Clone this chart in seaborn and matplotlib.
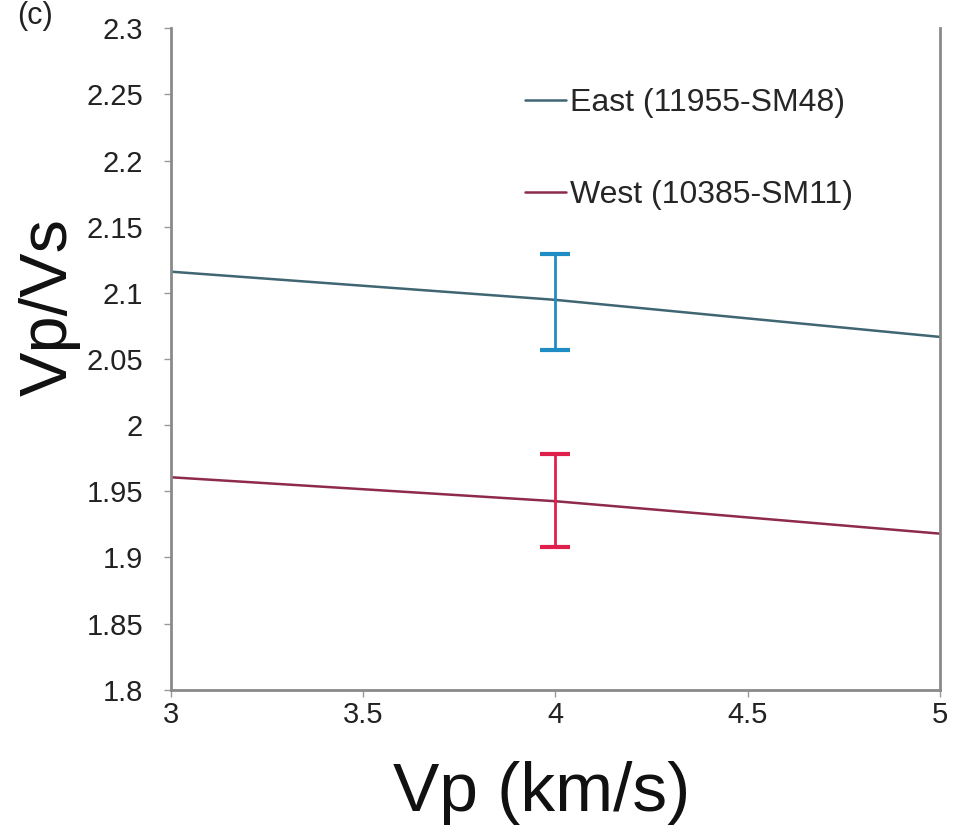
import matplotlib
matplotlib.use("Agg")
import matplotlib.pyplot as plt
import seaborn as sns
import pandas as pd
import numpy as np

# Data
vp = [3.0, 4.0, 5.0]
east_ratio = [2.116, 2.0947, 2.0667]
west_ratio = [1.9606, 1.9425, 1.918]
series_names = ["East (11955-SM48)", "West (10385-SM11)"]
err_x = [4.0]
east_err_center = [2.093]
east_err_half = [0.036]
west_err_center = [1.943]
west_err_half = [0.035]
xticks = [3, 3.5, 4, 4.5, 5]
yticks = [1.8, 1.85, 1.9, 1.95, 2.0, 2.05, 2.1, 2.15, 2.2, 2.25, 2.3]
ytick_labels = ["1.8", "1.85", "1.9", "1.95", "2", "2.05", "2.1", "2.15", "2.2", "2.25", "2.3"]
xtick_labels = ["3", "3.5", "4", "4.5", "5"]

sns.set_theme(style="white")
plt.rcParams['font.family'] = ['Liberation Sans', 'DejaVu Sans']

df = pd.DataFrame({
    "Vp": vp * 2,
    "ratio": east_ratio + west_ratio,
    "series": [series_names[0]] * len(vp) + [series_names[1]] * len(vp),
})

fig = plt.figure(figsize=(9.55, 8.31), dpi=100)
ax = fig.add_axes([0.179, 0.170, 0.805, 0.796])

line_colors = {series_names[0]: "#3f6672", series_names[1]: "#8e2a4c"}
sns.lineplot(data=df, x="Vp", y="ratio", hue="series", palette=line_colors,
             linewidth=1.8, ax=ax, legend=True)

ax.errorbar(err_x, east_err_center, yerr=east_err_half, fmt='none',
            ecolor="#1f8dc4", elinewidth=2, capsize=11, capthick=3, zorder=3)
ax.errorbar(err_x, west_err_center, yerr=west_err_half, fmt='none',
            ecolor="#e0204c", elinewidth=2, capsize=11, capthick=3, zorder=3)

ax.set_xlim(3, 5)
ax.set_ylim(1.8, 2.3)
ax.set_xticks(xticks)
ax.set_xticklabels(xtick_labels)
ax.set_yticks(yticks)
ax.set_yticklabels(ytick_labels)
ax.tick_params(axis='both', labelsize=21, colors="#222222", length=5, width=1,
               direction='out', left=True, bottom=True)
ax.tick_params(axis='x', pad=3, color="#999999")
ax.tick_params(axis='y', pad=15, color="#999999")

for s in ["left", "bottom", "right"]:
    ax.spines[s].set_visible(True)
    ax.spines[s].set_color("#8a8a8a")
    ax.spines[s].set_linewidth(2)
ax.spines["top"].set_visible(False)

ax.set_xlabel("Vp (km/s)", fontsize=50, color="#111111")
ax.set_ylabel("Vp/Vs", fontsize=48, color="#111111")
ax.xaxis.set_label_coords(0.482, -0.108)
ax.yaxis.set_label_coords(-0.118, 0.579)

leg = ax.legend(loc="upper left", bbox_to_anchor=(0.46, 0.91), frameon=False,
                fontsize=23, handlelength=1.3, handletextpad=0.12,
                labelspacing=1.95, borderpad=0, borderaxespad=0)

fig.text(0.018, 0.999, "(c)", fontsize=22, va="top", ha="left", color="#222222")

fig.savefig("out.png", dpi=100, facecolor="white")
